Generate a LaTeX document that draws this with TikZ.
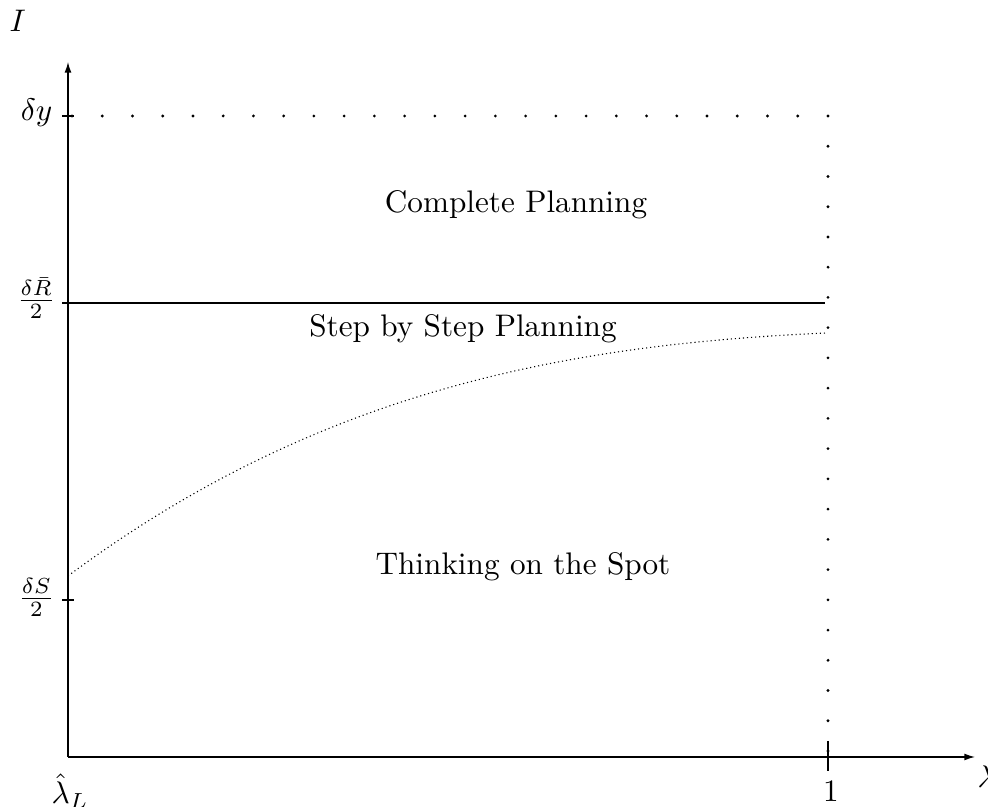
\documentclass[tikz,border=0pt]{standalone}
\usetikzlibrary{arrows.meta}
\begin{document}
\begin{tikzpicture}[x=0.3205pt,y=-0.3205pt,
  axis/.style={line width=0.4pt,-{Latex[length=3.4pt,width=2.2pt]}},
  tickmark/.style={line width=0.6pt},
  bigdot/.style={fill=black},
  finedots/.style={line width=0.35pt,dash pattern=on 0.35pt off 0.95pt},
  lab/.style={inner sep=0pt},
  region/.style={inner sep=0pt,anchor=base}]
\useasboundingbox (0,0) rectangle (988,807);
% axes
\coordinate (O) at (68,757);
\coordinate (ytop) at (68,62);
\coordinate (xend) at (975,757);
\draw[axis] (O) -- (ytop);
\draw[axis] (O) -- (xend);
% ticks
\coordinate (t1a) at (62,116); \coordinate (t1b) at (74,116);
\coordinate (t2a) at (62,303); \coordinate (t2b) at (74,303);
\coordinate (t3a) at (62,600); \coordinate (t3b) at (74,600);
\coordinate (t4a) at (828,741); \coordinate (t4b) at (828,771);
\draw[tickmark] (t1a) -- (t1b);
\draw[tickmark] (t2a) -- (t2b);
\draw[tickmark] (t3a) -- (t3b);
\draw[line width=0.45pt] (t4a) -- (t4b);
% horizontal solid line
\coordinate (hs) at (68,303); \coordinate (he) at (825,303);
\draw[line width=0.4pt] (hs) -- (he);
% dotted boundary
\foreach \i in {0,...,25} {\fill[bigdot] ({828-\i*30.24},116) circle[radius=0.5pt];}
\foreach \i in {1,...,21} {\fill[bigdot] (828,{116+\i*30.24}) circle[radius=0.5pt];}
% curve
\draw[finedots] plot[domain=0:7.58,samples=80,smooth]
  ({68+100*\x},{757-(181+74.546*\x-7.5727*\x*\x+0.25955*\x*\x*\x)});
% labels
\node[lab,anchor=base west] (lI) at (9,32) {$I$};
\node[lab,anchor=base east] (ldy) at (53,121) {$\delta y$};
\node[lab,anchor=base east] (ldR) at (56,308) {$\frac{\delta\bar R}{2}$};
\node[lab,anchor=base east] (ldS) at (55,606) {$\frac{\delta S}{2}$};
\node[lab,anchor=base] (lL) at (70,804) {$\hat\lambda_L$};
\node[lab,anchor=base] (l1) at (831,802) {$1$};
\node[lab,anchor=base west] (llam) at (977,788) {$\lambda$};
% regions
\node[region] (cp) at (516,213) {Complete Planning};
\node[region] (sp) at (463,337) {Step by Step Planning};
\node[region] (ts) at (523,575) {Thinking on the Spot};
\end{tikzpicture}
\end{document}
